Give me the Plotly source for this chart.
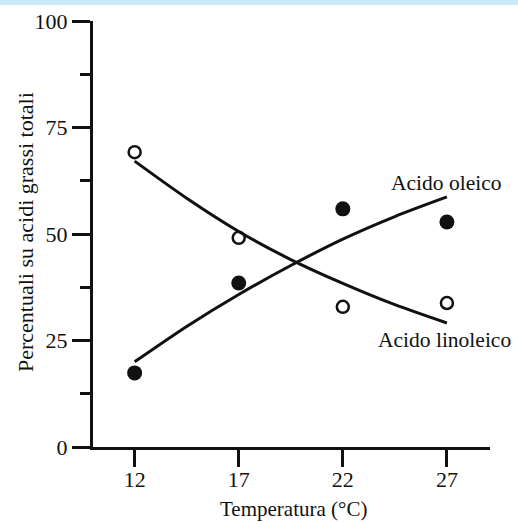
import plotly.graph_objects as go

temps = [12, 17, 22, 27]
oleico_pts = [17.4, 38.5, 55.9, 52.8]
linoleico_pts = [69.2, 49.1, 32.9, 33.8]

curve_x = [12, 14.5, 17, 19.5, 22, 24.5, 27]
oleico_curve = [20.0, 28.3, 35.8, 42.6, 48.8, 54.1, 58.7]
linoleico_curve = [67.1, 58.4, 50.6, 44.0, 38.4, 33.4, 29.1]

x_ticks = [12, 17, 22, 27]
y_ticks = [0, 25, 50, 75, 100]
y_minor = [12.5, 37.5, 62.5, 87.5]

FONT = "Liberation Serif"
INK = "#111111"

fig = go.Figure()
fig.add_trace(go.Scatter(x=curve_x, y=linoleico_curve, mode="lines",
                         line=dict(color=INK, width=3, shape="spline", smoothing=0.8), hoverinfo="skip"))
fig.add_trace(go.Scatter(x=curve_x, y=oleico_curve, mode="lines",
                         line=dict(color=INK, width=3, shape="spline", smoothing=0.8), hoverinfo="skip"))
fig.add_trace(go.Scatter(x=temps, y=linoleico_pts, mode="markers",
                         marker=dict(symbol="circle-open", size=12, color=INK, line=dict(width=2.5))))
fig.add_trace(go.Scatter(x=temps, y=oleico_pts, mode="markers",
                         marker=dict(symbol="circle", size=15, color=INK)))

fig.add_annotation(x=26.95, y=62.0, xref="x", yref="y", text="Acido oleico", showarrow=False,
                   font=dict(family=FONT, size=21.5, color=INK))
fig.add_annotation(x=26.9, y=25.1, xref="x", yref="y", text="Acido linoleico", showarrow=False,
                   font=dict(family=FONT, size=21.5, color=INK))

# axis titles
fig.add_annotation(x=(293 - 93) / 397, y=(447 - 509) / 426, xref="paper", yref="paper",
                   text="Temperatura (°C)", showarrow=False, xanchor="center", yanchor="middle",
                   font=dict(family=FONT, size=21, color=INK))
fig.add_annotation(x=(25 - 93) / 397, y=(447 - 232) / 426, xref="paper", yref="paper",
                   text="Percentuali su acidi grassi totali", showarrow=False, textangle=-90,
                   xanchor="center", yanchor="middle",
                   font=dict(family=FONT, size=22, color=INK))

fig.add_shape(type="rect", xref="paper", yref="paper", x0=-0.3, x1=1.2,
              y0=1 + 16 / 426, y1=1 + 22 / 426, fillcolor="#cbe8fc", line=dict(width=0), layer="below")

fig.update_layout(
    width=518, height=524,
    margin=dict(l=93, r=28, t=21, b=77, autoexpand=False),
    paper_bgcolor="white", plot_bgcolor="white",
    showlegend=False,
    font=dict(family=FONT, size=20, color=INK),
    xaxis=dict(range=[10, 29.07], tickvals=x_ticks, ticks="outside", ticklen=17, tickwidth=3,
               tickcolor=INK, showline=True, linecolor=INK, linewidth=3, showgrid=False,
               zeroline=False, automargin=False, ticklabelstandoff=-6,
               tickfont=dict(family=FONT, size=22, color=INK)),
    yaxis=dict(range=[0, 100], tickvals=y_ticks, ticks="outside", ticklen=18, tickwidth=3,
               tickcolor=INK, showline=True, linecolor=INK, linewidth=3, showgrid=False,
               zeroline=False, automargin=False,
               tickfont=dict(family=FONT, size=22, color=INK),
               minor=dict(tickmode="array", tickvals=y_minor, ticks="outside", ticklen=10,
                          tickwidth=3, tickcolor=INK, showgrid=False)),
)

fig.write_html("out.html")
